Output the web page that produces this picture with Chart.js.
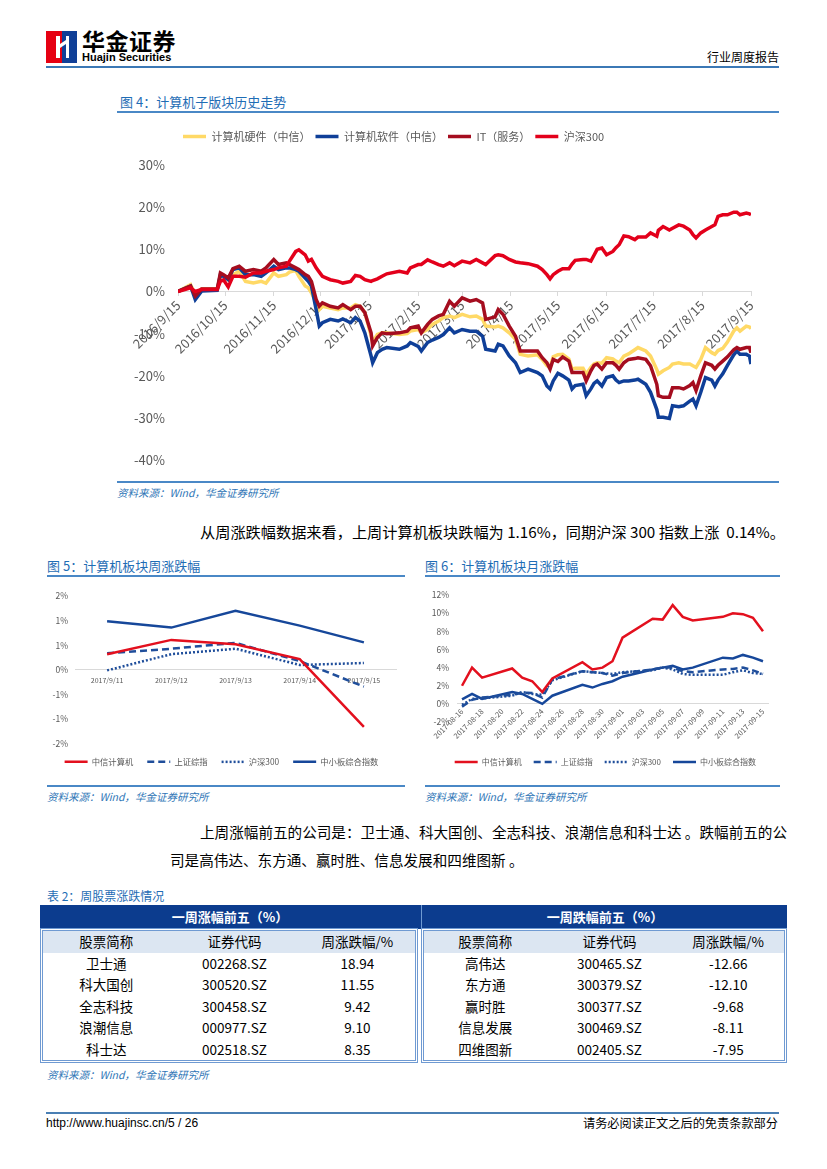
<!DOCTYPE html>
<html>
<head>
<meta charset="utf-8">
<script src="https://cdn.jsdelivr.net/npm/chart.js@4.4.0/dist/chart.umd.min.js"></script>
<style>
  body { margin: 0; width: 827px; height: 1169px; position: relative; background: #fff; overflow: hidden;
         font-family: "Noto Sans CJK SC", sans-serif; color: #000; }
  .abs { position: absolute; white-space: nowrap; }
  .rule { position: absolute; background: #3f7fbf; }
  .figtitle { position: absolute; font-size: 13px; color: #1f6db5; line-height: 16px; white-space: nowrap; }
  .src { position: absolute; font-size: 10.5px; color: #2e75b6; font-style: italic; line-height: 14px; white-space: nowrap; }
  .para { position: absolute; font-size: 15px; line-height: 20px; white-space: nowrap; }
  canvas { position: absolute; }
  .band { position: absolute; left: 40px; top: 905px; width: 747px; height: 24px; background: #0c3c8e; }
  .band div { position: absolute; top: 0; height: 24px; line-height: 24px; text-align: center; color: #fff; font-weight: bold; font-size: 13px; }
  .half { position: absolute; top: 928px; height: 129px; border: 3px double #6f9ad2; }
  .half table { border-collapse: collapse; width: 100%; font-size: 13.5px; }
  .half td { text-align: center; height: 21.6px; padding: 0; line-height: 21.6px; }
  .half tr.head td { background: #dce6f2; height: 21px; }
</style>
</head>
<body>

<!-- header -->
<svg class="abs" style="left:46px;top:31px" width="31" height="32" viewBox="0 0 31 32">
  <rect x="0" y="0" width="16" height="32" fill="#e60012"/>
  <rect x="16" y="0" width="15" height="32" fill="#103f97"/>
  <rect x="10" y="5" width="4" height="22" fill="#fff"/>
  <polygon points="14,13 20,9 20,13 14,17" fill="#fff"/>
  <rect x="20" y="5" width="3" height="22" fill="#fff"/>
</svg>
<div class="abs" style="left:82px;top:29px;font-size:23px;font-weight:bold;line-height:23px;letter-spacing:0.5px">华金证券</div>
<div class="abs" style="left:82px;top:51px;font-size:11px;font-weight:bold;line-height:12px;font-family:'Liberation Sans',Arial,sans-serif">Huajin Securities</div>
<div class="abs" style="left:707px;top:49px;font-size:12px;line-height:16px">行业周度报告</div>
<div class="rule" style="left:46px;top:66px;width:733px;height:2px;background:#3b78b5"></div>

<!-- figure 4 -->
<div class="figtitle" style="left:120px;top:94px">图 4：计算机子版块历史走势</div>
<div class="rule" style="left:117px;top:111px;width:662px;height:1.5px;background:#4a88c6"></div>
<canvas id="c4" width="679" height="355" style="left:100px;top:126px"></canvas>
<div class="rule" style="left:117px;top:481px;width:662px;height:1.5px;background:#4a88c6"></div>
<div class="src" style="left:117px;top:486px">资料来源：Wind，华金证券研究所</div>

<div class="para" style="left:200px;top:521px;font-size:15.2px">从周涨跌幅数据来看，上周计算机板块跌幅为 1.16%，同期沪深 300 指数上涨&nbsp;&nbsp;0.14%。</div>

<!-- figure 5 / 6 -->
<div class="figtitle" style="left:47px;top:558px">图 5：计算机板块周涨跌幅</div>
<div class="rule" style="left:47px;top:575px;width:358px;height:1.5px;background:#4a88c6"></div>
<div class="figtitle" style="left:425px;top:558px">图 6：计算机板块月涨跌幅</div>
<div class="rule" style="left:425px;top:575px;width:355px;height:1.5px;background:#4a88c6"></div>
<canvas id="c5" width="360" height="192" style="left:47px;top:584px"></canvas>
<canvas id="c6" width="370" height="194" style="left:410px;top:582px"></canvas>
<div class="rule" style="left:47px;top:785px;width:358px;height:1.5px;background:#4a88c6"></div>
<div class="src" style="left:47px;top:790px">资料来源：Wind，华金证券研究所</div>
<div class="rule" style="left:425px;top:785px;width:355px;height:1.5px;background:#4a88c6"></div>
<div class="src" style="left:425px;top:790px">资料来源：Wind，华金证券研究所</div>

<div class="para" style="left:200px;top:822px;width:579px;font-size:14.6px;text-align:justify;text-align-last:justify">上周涨幅前五的公司是：卫士通、科大国创、全志科技、浪潮信息和科士达 。跌幅前五的公</div>
<div class="para" style="left:170px;top:850px;font-size:14.6px">司是高伟达、东方通、赢时胜、信息发展和四维图新 。</div>

<!-- table 2 -->
<div class="figtitle" style="left:47px;top:888px;font-size:12px">表 2：周股票涨跌情况</div>
<div class="band">
  <div style="left:0;width:380px">一周涨幅前五（%）</div>
  <div style="left:381px;width:366px;border-left:1px solid #6f9ad2">一周跌幅前五（%）</div>
</div>
<div class="half" style="left:40px;width:372px"><table id="tGain"></table></div>
<div class="half" style="left:421px;width:360px"><table id="tLose"></table></div>
<div class="src" style="left:47px;top:1068px">资料来源：Wind，华金证券研究所</div>

<!-- footer -->
<div class="rule" style="left:46px;top:1112px;width:733px;height:2px;background:#4a7fb3"></div>
<div class="abs" style="left:46px;top:1116px;font-size:12px;line-height:14px;font-family:'Liberation Sans',Arial,sans-serif">http://www.huajinsc.cn/5 / 26</div>
<div class="abs" style="left:583px;top:1115px;font-size:12.2px;line-height:16px">请务必阅读正文之后的免责条款部分</div>

<script>
// ---- 图4 data (% change since 2016/9/15) ----
const histDates = [
  '2016-09-15','2016-09-23','2016-09-26','2016-09-30','2016-10-10','2016-10-12','2016-10-14','2016-10-17','2016-10-20','2016-10-24',
  '2016-10-28','2016-11-02','2016-11-07','2016-11-10','2016-11-15','2016-11-18','2016-11-23','2016-11-25','2016-11-29','2016-12-01',
  '2016-12-05','2016-12-07','2016-12-09','2016-12-12','2016-12-14','2016-12-16','2016-12-21','2016-12-26','2016-12-29','2017-01-03',
  '2017-01-06','2017-01-09','2017-01-12','2017-01-16','2017-01-17','2017-01-20','2017-01-23','2017-01-26','2017-02-03','2017-02-08',
  '2017-02-10','2017-02-15','2017-02-17','2017-02-21','2017-02-24','2017-02-28','2017-03-03','2017-03-07','2017-03-10','2017-03-15',
  '2017-03-20','2017-03-24','2017-03-28','2017-03-30','2017-04-05','2017-04-07','2017-04-10','2017-04-14','2017-04-18','2017-04-21',
  '2017-04-26','2017-05-02','2017-05-05','2017-05-08','2017-05-10','2017-05-12','2017-05-15','2017-05-18','2017-05-22','2017-05-24',
  '2017-05-26','2017-05-31','2017-06-02','2017-06-05','2017-06-07','2017-06-09','2017-06-12','2017-06-15','2017-06-19','2017-06-21',
  '2017-06-23','2017-06-26','2017-06-29','2017-07-03','2017-07-05','2017-07-10','2017-07-13','2017-07-17','2017-07-18','2017-07-21',
  '2017-07-25','2017-07-27','2017-07-31','2017-08-03','2017-08-07','2017-08-09','2017-08-11','2017-08-14','2017-08-17','2017-08-21',
  '2017-08-23','2017-08-25','2017-08-28','2017-08-31','2017-09-04','2017-09-06','2017-09-08','2017-09-12','2017-09-14','2017-09-15'
];
const hardware = [
  0, 1.6, -0.7, 0.6, 0.6, 3.6, 3.8, 2.8, 4.0, 4.8, 2.4, 2.0, 2.4, 2.0, 4.4, 3.6, 4.0, 4.6, 5.0, 3.6,
  1.3, 0.9, -0.3, -2.7, -4.3, -3.5, -3.9, -4.3, -3.9, -3.9, -3.1,
  -3.5, -5.0, -10.5, -12.0, -10.2, -9.8, -9.8, -10.2, -10.0, -9.4, -9.0, -9.8, -9.0, -7.8, -7.0, -6.2, -5.8, -6.2, -5.4,
  -6.0, -5.8, -6.6, -8.2, -8.4, -8.2, -8.6, -9.8, -11.3, -14.9, -15.3, -15.0, -16.1, -17.6, -18.0, -15.5,
  -15.0, -14.9, -16.0, -18.4, -18.2, -18.2, -19.6, -18.0, -17.2, -16.9, -17.0, -15.7, -16.0, -16.5, -16.9, -15.3, -14.8, -13.8, -13.3, -14.1,
  -15.3, -18.5, -19.6, -18.8, -18.0, -17.2, -16.9, -17.2, -17.2, -17.6, -18.0, -16.1, -13.3, -14.5, -14.9, -14.0, -13.5, -12.0, -9.4, -8.6,
  -9.4, -8.2, -8.4, -8.8
];
const software = [
  0, 1.3, -1.9, 0.1, 0.3, 4.0, 3.6, 2.8, 5.2, 5.6, 4.0, 4.0, 3.6, 4.4, 6.0, 5.2, 5.6, 5.6, 5.2, 4.8,
  3.2, 2.4, 1.3, -4.3, -8.2, -7.4, -6.6, -7.0, -6.5, -7.4, -6.2,
  -7.0, -9.8, -15.3, -16.9, -14.5, -13.7, -13.3, -13.7, -12.9, -12.1, -13.0, -14.1, -12.1, -11.5, -10.9, -10.2, -8.6, -9.8, -9.0,
  -9.4, -9.4, -10.6, -13.7, -14.1, -12.5, -12.9, -15.3, -16.9, -19.2, -18.4, -19.2, -20.0, -22.4, -23.1, -21.2,
  -19.4, -20.0, -21.0, -23.1, -22.3, -22.0, -24.7, -23.1, -21.8, -21.2, -22.4, -20.4, -20.0, -21.0, -21.6, -21.2, -21.2, -21.0, -20.8, -22.0,
  -23.9, -28.0, -29.8, -29.8, -30.1, -27.1, -27.3, -27.1, -26.0, -25.5, -27.1, -23.9, -20.4, -21.0, -22.4, -21.0, -19.5, -17.5, -15.0, -14.1,
  -14.9, -14.9, -15.3, -17.2
];
const itService = [
  0, 1.3, -1.1, 0.6, 0.6, 4.4, 4.0, 3.2, 5.4, 6.0, 4.8, 5.2, 4.8, 5.6, 7.6, 6.4, 6.8, 6.4, 5.6, 5.2,
  4.0, 3.6, 2.4, -1.9, -3.5, -2.7, -3.5, -3.9, -3.1, -4.3, -3.5,
  -3.5, -5.0, -9.8, -12.9, -10.9, -9.8, -10.0, -9.8, -9.4, -8.6, -8.2, -9.8, -7.8, -6.6, -5.8, -5.4, -2.3, -3.5, -1.5,
  -2.3, -1.9, -2.7, -6.6, -6.0, -4.3, -5.4, -8.2, -10.6, -14.1, -14.1, -14.1, -15.7, -16.9, -18.4, -16.1,
  -16.6, -15.5, -16.5, -19.2, -19.2, -19.2, -21.2, -18.8, -17.5, -17.2, -18.4, -16.9, -16.9, -17.5, -18.4, -16.9, -16.1, -15.9, -15.7, -16.1,
  -17.6, -22.0, -24.7, -25.1, -25.1, -22.8, -22.8, -23.1, -22.3, -21.6, -23.5, -20.0, -16.9, -17.5, -18.4, -17.5, -16.5, -15.5, -13.8, -13.3,
  -13.7, -13.3, -13.3, -14.5
];
const hs300 = [
  0, 0.9, 0, 0.5, 0.5, 2.4, 2.8, 1.1, 3.6, 3.6, 3.4, 4.4, 4.4, 4.8, 5.2, 5.6, 6.0, 7.2, 9.5, 9.9,
  8.7, 7.2, 7.6, 5.6, 4.6, 3.6, 2.8, 2.4, 2.0, 2.4, 3.8,
  3.6, 2.8, 2.4, 2.6, 3.0, 3.6, 4.2, 4.8, 4.4, 5.6, 6.4, 6.4, 7.5, 7.0, 6.4, 6.0, 6.8, 6.1, 7.2,
  6.8, 7.6, 6.8, 6.4, 8.5, 8.7, 8.5, 7.6, 7.0, 6.8, 6.6, 6.0, 5.2, 4.0, 3.0, 4.0,
  4.8, 5.4, 5.4, 6.5, 7.4, 7.6, 7.6, 7.2, 8.6, 10.0, 10.3, 8.7, 9.5, 10.4, 11.1, 13.2, 13.0, 12.3, 12.9, 12.9,
  13.9, 13.1, 14.5, 15.4, 14.6, 15.0, 15.8, 15.5, 14.6, 13.5, 12.7, 13.9, 14.6, 15.4, 15.8, 17.8, 18.2, 18.2, 18.8, 18.8,
  18.2, 18.6, 18.4, 18.2
];
const histTicks = ['2016/9/15','2016/10/15','2016/11/15','2016/12/15','2017/1/15','2017/2/15','2017/3/15',
                   '2017/4/15','2017/5/15','2017/6/15','2017/7/15','2017/8/15','2017/9/15'];

// ---- 图5 data ----
const weekDays = ['2017/9/11','2017/9/12','2017/9/13','2017/9/14','2017/9/15'];
const wkCiticComp = [0.32, 0.61, 0.52, 0.22, -1.16];
const wkShComp = [0.34, 0.43, 0.55, 0.18, -0.34];
const wkHs300 = [-0.01, 0.32, 0.43, 0.10, 0.14];
const wkSme = [0.99, 0.86, 1.20, 0.90, 0.56];

// ---- 图6 data (weekends have no value) ----
const monthDays = ['2017-08-16','2017-08-17','2017-08-18','2017-08-19','2017-08-20','2017-08-21','2017-08-22','2017-08-23',
  '2017-08-24','2017-08-25','2017-08-26','2017-08-27','2017-08-28','2017-08-29','2017-08-30','2017-08-31','2017-09-01',
  '2017-09-02','2017-09-03','2017-09-04','2017-09-05','2017-09-06','2017-09-07','2017-09-08','2017-09-09','2017-09-10',
  '2017-09-11','2017-09-12','2017-09-13','2017-09-14','2017-09-15'];
const moCiticComp = [2.0, 4.0, 2.9, null, null, 3.9, 2.9, 2.5, 1.3, 2.8, null, null, 4.6, 3.8, 4.0, 4.7, 7.3,
  null, null, 9.4, 9.3, 10.9, 9.6, 9.2, null, null, 9.6, 10.0, 9.9, 9.5, 8.0];
const moShComp = [-0.3, 0.45, 0.7, null, null, 1.0, 1.25, 1.2, 0.7, 2.7, null, null, 3.6, 3.5, 3.4, 3.1, 3.4,
  null, null, 3.8, 4.0, 4.0, 3.6, 3.5, null, null, 3.8, 3.85, 4.0, 3.7, 3.3];
const moHs300 = [-0.1, 0.55, 0.6, null, null, 0.9, 1.3, 1.1, 1.0, 2.6, null, null, 3.6, 3.5, 3.4, 3.3, 3.5,
  null, null, 3.7, 4.0, 3.8, 3.3, 3.2, null, null, 3.2, 3.5, 3.7, 3.4, 3.3];
const moSme = [0.5, 1.1, 0.55, null, null, 1.3, 1.1, 0.55, 0, 0.9, null, null, 2.1, 1.8, 2.2, 2.5, 3.0,
  null, null, 3.8, 4.0, 4.2, 3.8, 4.0, null, null, 5.1, 5.0, 5.4, 5.1, 4.7];

// ---- 表2 data ----
const tableHead = ['股票简称', '证券代码', '周涨跌幅/%'];
const gainNames = ['卫士通', '科大国创', '全志科技', '浪潮信息', '科士达'];
const gainCodes = ['002268.SZ', '300520.SZ', '300458.SZ', '000977.SZ', '002518.SZ'];
const gainPct = ['18.94', '11.55', '9.42', '9.10', '8.35'];
const loseNames = ['高伟达', '东方通', '赢时胜', '信息发展', '四维图新'];
const loseCodes = ['300465.SZ', '300379.SZ', '300377.SZ', '300469.SZ', '002405.SZ'];
const losePct = ['-12.66', '-12.10', '-9.68', '-8.11', '-7.95'];

function fillTable(id, names, codes, pct) {
  const t = document.getElementById(id);
  let html = '<tr class="head">' + tableHead.map((h, i) => '<td style="width:' + [34, 35, 31][i] + '%">' + h + '</td>').join('') + '</tr>';
  names.forEach((n, i) => { html += '<tr><td>' + n + '</td><td>' + codes[i] + '</td><td>' + pct[i] + '</td></tr>'; });
  t.innerHTML = html;
}
fillTable('tGain', gainNames, gainCodes, gainPct);
fillTable('tLose', loseNames, loseCodes, losePct);

// ---- charts ----
Chart.defaults.font.family = '"Noto Sans CJK SC", sans-serif';
Chart.defaults.color = '#595959';
Chart.defaults.animation = false;

const base = Date.UTC(2016, 8, 15);
const dayOf = s => { const p = s.split(/[-\/]/).map(Number); return (Date.UTC(p[0], p[1] - 1, p[2]) - base) / 864e5; };
const pts = vals => histDates.map((d, i) => ({ x: dayOf(d), y: vals[i] }));

// legend items drawn as short line segments (keeps dash patterns)
const lineLegend = chart => chart.data.datasets.map((ds, i) => ({
  text: ds.label, fillStyle: ds.borderColor, strokeStyle: ds.borderColor, lineWidth: ds.borderWidth,
  lineDash: ds.borderDash || [], lineCap: 'butt', pointStyle: 'line', hidden: false, datasetIndex: i, fontColor: '#595959'
}));

// extra space under a top legend
const legendGap = extra => ({
  id: 'legendGap',
  afterInit(chart) {
    const fit = chart.legend.fit;
    chart.legend.fit = function () { fit.call(this); this.height += extra; };
  }
});

new Chart(document.getElementById('c4'), {
  type: 'line',
  data: {
    datasets: [
      { label: '计算机硬件（中信）', data: pts(hardware), borderColor: '#ffd966', borderWidth: 3.5, order: 4 },
      { label: '计算机软件（中信）', data: pts(software), borderColor: '#0f3f98', borderWidth: 3.5, order: 3 },
      { label: 'IT（服务）', data: pts(itService), borderColor: '#a50d1f', borderWidth: 3.5, order: 2 },
      { label: '沪深300', data: pts(hs300), borderColor: '#e3001b', borderWidth: 3.5, order: 1 }
    ]
  },
  options: {
    responsive: false,
    elements: { point: { radius: 0 }, line: { tension: 0 } },
    layout: { padding: { top: 0, right: 28, bottom: 10, left: 0 } },
    plugins: {
      tooltip: { enabled: false },
      legend: {
        position: 'top', align: 'start', fullSize: false,
        labels: { usePointStyle: true, pointStyleWidth: 23, boxHeight: 11, padding: 5, font: { size: 11 }, generateLabels: lineLegend }
      }
    },
    scales: {
      x: {
        type: 'linear', position: { y: 0 }, min: 0, max: 365,
        afterBuildTicks: s => { s.ticks = histTicks.map(t => ({ value: dayOf(t) })); },
        ticks: { callback: (v, i) => histTicks[i], autoSkip: false, minRotation: 45, maxRotation: 45, padding: 2, font: { size: 13 } },
        grid: { drawOnChartArea: false, tickLength: 4, color: '#d9d9d9' },
        border: { color: '#d9d9d9' }
      },
      y: {
        min: -40, max: 30,
        ticks: { stepSize: 10, callback: v => v + '%', padding: 13, font: { size: 13 } },
        grid: { display: false, drawTicks: false }, border: { display: false },
        afterFit: s => { s.width = 78; }
      }
    }
  },
  plugins: [legendGap(13)]
});

const pct0 = v => (v === 0 ? 0 : Math.sign(v) * Math.round(Math.abs(v))) + '%';

new Chart(document.getElementById('c5'), {
  type: 'line',
  data: {
    labels: weekDays,
    datasets: [
      { label: '中信计算机', data: wkCiticComp, borderColor: '#e3101e', borderWidth: 2.5 },
      { label: '上证综指', data: wkShComp, borderColor: '#1f4e9b', borderWidth: 2.5, borderDash: [7, 4] },
      { label: '沪深300', data: wkHs300, borderColor: '#1f4e9b', borderWidth: 2.5, borderDash: [2, 2] },
      { label: '中小板综合指数', data: wkSme, borderColor: '#16479a', borderWidth: 2.5 }
    ]
  },
  options: {
    responsive: false,
    elements: { point: { radius: 0 }, line: { tension: 0 } },
    layout: { padding: { top: 0, right: 11, bottom: 0, left: 0 } },
    plugins: {
      tooltip: { enabled: false },
      legend: {
        position: 'bottom',
        labels: { usePointStyle: true, pointStyleWidth: 23, boxHeight: 8, padding: 14, font: { size: 8.3 }, generateLabels: lineLegend }
      }
    },
    scales: {
      x: {
        type: 'category', position: { y: 0 }, offset: true,
        ticks: { maxRotation: 0, minRotation: 0, padding: 6, font: { size: 7 } },
        grid: { display: false, drawTicks: false }, border: { color: '#d9d9d9' }
      },
      y: {
        min: -1.5, max: 1.5,
        ticks: { stepSize: 0.5, callback: pct0, padding: 7, font: { size: 8.5 } },
        grid: { display: false, drawTicks: false }, border: { display: false },
        afterFit: s => { s.width = 28; }
      }
    }
  }
});

new Chart(document.getElementById('c6'), {
  type: 'line',
  data: {
    labels: monthDays,
    datasets: [
      { label: '中信计算机', data: moCiticComp, borderColor: '#e3101e', borderWidth: 2.5 },
      { label: '上证综指', data: moShComp, borderColor: '#1f4e9b', borderWidth: 2.5, borderDash: [7, 4] },
      { label: '沪深300', data: moHs300, borderColor: '#1f4e9b', borderWidth: 2.5, borderDash: [2, 2] },
      { label: '中小板综合指数', data: moSme, borderColor: '#16479a', borderWidth: 2.5 }
    ]
  },
  options: {
    responsive: false,
    spanGaps: true,
    elements: { point: { radius: 0 }, line: { tension: 0 } },
    layout: { padding: { top: 0, right: 12, bottom: 0, left: 0 } },
    plugins: {
      tooltip: { enabled: false },
      legend: {
        position: 'bottom', align: 'end',
        title: { display: true, text: ' ', font: { size: 20 }, padding: 0 },
        labels: { usePointStyle: true, pointStyleWidth: 23, boxHeight: 8, padding: 12, font: { size: 8 }, generateLabels: lineLegend }
      }
    },
    scales: {
      x: {
        type: 'category', position: { y: 0 }, offset: true,
        ticks: {
          autoSkip: false, minRotation: 45, maxRotation: 45, padding: 3, font: { size: 7.5 },
          callback: function (v, i) { return i % 2 ? null : this.getLabelForValue(v); }
        },
        grid: { display: false, drawTicks: false }, border: { color: '#d9d9d9' }
      },
      y: {
        min: -2, max: 12,
        ticks: { stepSize: 2, callback: v => v + '%', padding: 8, font: { size: 8.5 } },
        grid: { display: false, drawTicks: false }, border: { display: false },
        afterFit: s => { s.width = 47; }
      }
    }
  }
});
</script>
</body>
</html>
